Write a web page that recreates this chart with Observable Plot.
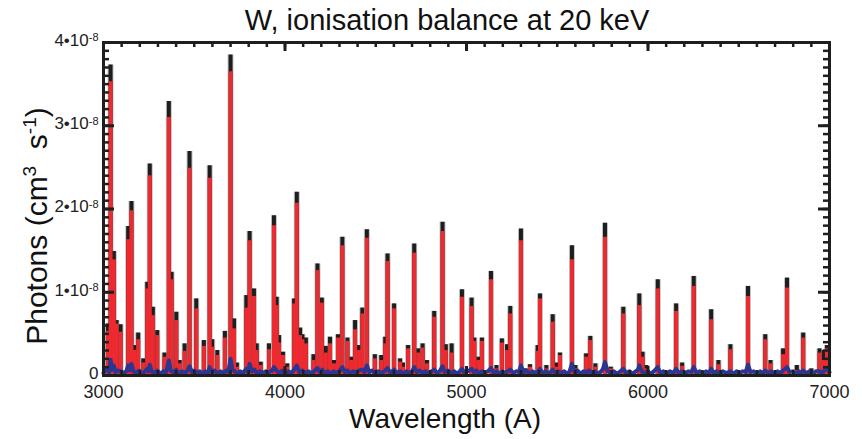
<!DOCTYPE html>
<html><head><meta charset="utf-8">
<script src="https://cdn.jsdelivr.net/npm/d3@7"></script>
<script src="https://cdn.jsdelivr.net/npm/@observablehq/plot@0.6"></script>
<style>
body{margin:0;background:#fff}
#chart{position:relative;width:862px;height:439px}
text{white-space:pre}
</style>
</head><body><div id="chart"></div>
<script>
// Wavelength of each emission line (Angstrom)
const peakWl = [3024,3039,3057,3072,3094,3136,3154,3173,3191,3219,3241,3255,3272,3296,3336,3360,3375,3401,3420,3447,
  3474,3511,3553,3585,3599,3627,3669,3700,3719,3735,3787,3805,3829,3844,3866,3912,3939,3954,3967,3989,
  4012,4050,4065,4083,4096,4115,4157,4179,4203,4225,4248,4270,4292,4316,4344,4365,4386,4408,4426,4451,
  4495,4530,4552,4565,4601,4634,4650,4678,4712,4734,4758,4782,4822,4868,4886,4918,4975,5028,5043,5065,
  5085,5135,5165,5195,5223,5241,5300,5325,5350,5392,5405,5440,5475,5495,5515,5581,5600,5659,5682,5710,
  5763,5795,5864,5952,5970,5990,6054,6155,6188,6252,6348,6388,6454,6551,6646,6675,6744,6766,6820,6855,
  6900,6945,6969,6986];
// Photons, units of 1e-8 cm^3 s^-1 (black series)
const blackPeak = [0.62,3.73,1.49,0.66,0.61,1.79,2.09,0.36,0.51,0.20,1.12,2.54,0.82,0.54,0.27,3.29,1.24,0.76,0.18,0.38,
  2.69,0.92,0.42,2.52,0.43,0.30,0.53,3.85,0.68,0.15,0.96,1.73,1.04,0.38,0.16,0.38,1.92,0.94,0.48,0.28,
  0.14,0.92,2.20,0.57,0.49,0.45,0.25,1.34,0.93,0.35,0.46,0.18,0.49,1.66,0.45,0.22,0.66,0.36,0.81,1.75,
  0.25,0.24,0.46,1.46,0.86,0.20,0.15,0.36,1.58,0.32,0.38,0.18,0.77,1.84,0.37,0.38,1.03,0.93,0.45,0.22,
  0.45,1.25,0.12,0.44,0.37,0.83,1.76,0.08,0.13,0.36,0.98,0.12,0.73,0.15,0.27,1.56,0.12,0.26,0.47,0.14,
  1.83,0.10,0.82,0.98,0.28,0.12,1.15,0.86,0.15,1.19,0.79,0.18,0.37,1.07,0.49,0.18,0.32,1.17,0.12,0.51,
  0.08,0.32,0.30,0.36];
// Photons, units of 1e-8 (red series)
const redPeak = [0.53,3.53,1.39,0.62,0.52,1.63,1.98,0.30,0.43,0.15,1.04,2.40,0.72,0.48,0.22,3.10,1.15,0.66,0.14,0.29,
  2.49,0.80,0.35,2.37,0.34,0.24,0.45,3.65,0.56,0.10,0.81,1.62,0.95,0.30,0.12,0.31,1.80,0.84,0.39,0.24,
  0.10,0.86,2.07,0.48,0.43,0.38,0.18,1.26,0.87,0.27,0.38,0.14,0.45,1.56,0.41,0.18,0.55,0.30,0.74,1.65,
  0.20,0.18,0.38,1.37,0.80,0.16,0.10,0.32,1.47,0.27,0.33,0.14,0.70,1.73,0.30,0.27,0.94,0.83,0.41,0.18,
  0.41,1.15,0.08,0.39,0.30,0.74,1.62,0.05,0.10,0.29,0.92,0.08,0.64,0.10,0.24,1.39,0.08,0.22,0.42,0.10,
  1.66,0.08,0.74,0.84,0.22,0.08,1.04,0.77,0.11,1.07,0.67,0.13,0.31,0.95,0.43,0.14,0.25,1.05,0.06,0.45,
  0.05,0.27,0.18,0.32];
// Blue series: [wavelength, photons (1e-8)]
const blueSeries = [[3000,0.03],[3012,0.06],[3024,0.08],[3032,0.04],[3039,0.19],[3047,0.07],[3057,0.12],[3066,0.04],[3080,0.06],[3094,0.05],
  [3110,0.03],[3125,0.05],[3136,0.12],[3145,0.06],[3154,0.14],[3165,0.05],[3180,0.03],[3196,0.06],[3212,0.02],[3228,0.05],
  [3241,0.08],[3248,0.05],[3255,0.13],[3265,0.05],[3280,0.03],[3296,0.06],[3312,0.02],[3330,0.05],[3345,0.04],[3360,0.18],
  [3370,0.06],[3385,0.04],[3401,0.07],[3415,0.02],[3432,0.05],[3447,0.03],[3460,0.05],[3474,0.11],[3488,0.04],[3500,0.06],
  [3515,0.03],[3530,0.05],[3545,0.02],[3560,0.05],[3575,0.03],[3585,0.10],[3597,0.04],[3612,0.06],[3628,0.02],[3645,0.05],
  [3660,0.03],[3675,0.06],[3688,0.04],[3700,0.20],[3710,0.07],[3722,0.05],[3738,0.02],[3752,0.05],[3768,0.03],[3787,0.08],
  [3796,0.04],[3805,0.14],[3818,0.05],[3832,0.07],[3848,0.02],[3862,0.05],[3878,0.03],[3895,0.05],[3912,0.04],[3925,0.05],
  [3939,0.10],[3952,0.06],[3968,0.03],[3985,0.06],[4000,0.02],[4018,0.05],[4035,0.03],[4050,0.07],[4065,0.12],[4078,0.04],
  [4096,0.06],[4112,0.03],[4130,0.05],[4145,0.02],[4160,0.05],[4179,0.09],[4192,0.04],[4205,0.07],[4220,0.03],[4236,0.05],
  [4252,0.02],[4268,0.05],[4282,0.03],[4298,0.05],[4316,0.10],[4330,0.04],[4345,0.06],[4360,0.02],[4375,0.05],[4390,0.04],
  [4408,0.06],[4426,0.07],[4438,0.04],[4451,0.12],[4465,0.04],[4480,0.06],[4495,0.02],[4512,0.05],[4530,0.03],[4548,0.05],
  [4565,0.09],[4580,0.03],[4601,0.07],[4618,0.03],[4635,0.05],[4652,0.02],[4668,0.05],[4685,0.03],[4700,0.05],[4712,0.10],
  [4726,0.04],[4742,0.06],[4758,0.03],[4775,0.05],[4792,0.02],[4808,0.05],[4822,0.07],[4838,0.03],[4852,0.05],[4868,0.11],
  [4880,0.04],[4898,0.06],[4915,0.03],[4932,0.05],[4948,0.02],[4962,0.05],[4975,0.08],[4990,0.03],[5008,0.05],[5028,0.08],
  [5040,0.04],[5055,0.06],[5070,0.02],[5085,0.05],[5100,0.03],[5118,0.05],[5135,0.09],[5150,0.03],[5168,0.05],[5182,0.02],
  [5198,0.05],[5212,0.03],[5228,0.05],[5241,0.07],[5258,0.03],[5275,0.05],[5288,0.04],[5300,0.12],[5314,0.04],[5330,0.06],
  [5348,0.02],[5365,0.05],[5380,0.03],[5395,0.05],[5405,0.08],[5420,0.03],[5438,0.05],[5455,0.02],[5475,0.07],[5490,0.03],
  [5505,0.05],[5520,0.03],[5538,0.05],[5555,0.02],[5568,0.05],[5581,0.14],[5595,0.04],[5612,0.06],[5628,0.02],[5645,0.05],
  [5660,0.04],[5675,0.06],[5690,0.03],[5708,0.05],[5725,0.02],[5742,0.05],[5752,0.08],[5763,0.16],[5778,0.05],[5795,0.03],
  [5812,0.05],[5830,0.02],[5848,0.05],[5864,0.08],[5880,0.03],[5898,0.05],[5915,0.02],[5932,0.05],[5945,0.07],[5952,0.12],
  [5965,0.05],[5980,0.03],[5998,0.05],[6015,0.02],[6032,0.05],[6054,0.10],[6068,0.03],[6085,0.05],[6102,0.02],[6120,0.05],
  [6138,0.03],[6155,0.08],[6170,0.03],[6188,0.05],[6205,0.02],[6222,0.05],[6238,0.04],[6252,0.10],[6268,0.03],[6285,0.05],
  [6302,0.02],[6320,0.05],[6335,0.03],[6348,0.08],[6362,0.03],[6378,0.05],[6395,0.02],[6412,0.05],[6430,0.03],[6454,0.05],
  [6470,0.02],[6488,0.05],[6505,0.03],[6522,0.05],[6538,0.04],[6551,0.13],[6565,0.04],[6582,0.05],[6600,0.02],[6618,0.05],
  [6632,0.03],[6646,0.06],[6662,0.03],[6680,0.05],[6698,0.02],[6715,0.05],[6730,0.03],[6744,0.06],[6766,0.10],[6780,0.04],
  [6798,0.05],[6815,0.02],[6832,0.05],[6845,0.03],[6855,0.06],[6872,0.03],[6890,0.05],[6908,0.02],[6925,0.05],[6945,0.05],
  [6960,0.03],[6975,0.07],[6986,0.08],[7000,0.04]];

const xTicks = [3000, 4000, 5000, 6000, 7000];
const xMinor = d3.range(3000, 7001, 100);
const yTicks = [0, 1, 2, 3, 4];
const yMinor = d3.range(0, 40.5, 1).map(d => d / 10);

const titleText = "W, ionisation balance at 20 keV";
const xLabel = "Wavelength (A)";

const W = 862, H = 439, mL = 103, mR = 33, mT = 42, mB = 64;
const innerW = W - mL - mR, innerH = H - mT - mB;

const peaks = peakWl.map((w, i) => ({w, b: blackPeak[i], r: redPeak[i]}));
const blue = blueSeries.map(([w, v]) => ({w, v}));

const ink = "#1e1e1e";
const chart = Plot.plot({
  width: W, height: H,
  marginLeft: mL, marginRight: mR, marginTop: mT, marginBottom: mB,
  style: {fontFamily: "'Liberation Sans', Arial, Helvetica, sans-serif", color: "#222", background: "#fff"},
  x: {domain: [3000, 7000], label: null},
  y: {domain: [0, 4], label: null},
  marks: [
    Plot.ruleX(peaks, {x: "w", y1: 0, y2: "b", stroke: "#c4c4c4", strokeWidth: 6}),
    Plot.ruleX(peaks, {x: "w", y1: 0, y2: "b", stroke: ink, strokeWidth: 4}),
    Plot.ruleX(peaks, {x: "w", y1: 0, y2: "r", stroke: "#ec2a30", strokeWidth: 4}),
    Plot.line(blue, {x: "w", y: "v", stroke: "#2c3590", strokeWidth: 4, strokeLinejoin: "round"}),
    Plot.frame({stroke: ink, strokeWidth: 3}),
    // inward ticks, bottom & top
    Plot.tickX(xMinor, {x: d => d, insetTop: innerH - 5, stroke: ink, strokeWidth: 2.5}),
    Plot.tickX(xMinor, {x: d => d, insetBottom: innerH - 5, stroke: ink, strokeWidth: 2.5}),
    Plot.tickX(xTicks, {x: d => d, insetTop: innerH - 9, stroke: ink, strokeWidth: 3}),
    Plot.tickX(xTicks, {x: d => d, insetBottom: innerH - 9, stroke: ink, strokeWidth: 3}),
    // inward ticks, left & right
    Plot.tickY(yMinor, {y: d => d, insetRight: innerW - 6, stroke: ink, strokeWidth: 2.5}),
    Plot.tickY(yMinor, {y: d => d, insetLeft: innerW - 6, stroke: ink, strokeWidth: 2.5}),
    Plot.tickY(yTicks, {y: d => d, insetRight: innerW - 11, stroke: ink, strokeWidth: 3}),
    Plot.tickY(yTicks, {y: d => d, insetLeft: innerW - 11, stroke: ink, strokeWidth: 3}),
    Plot.axisX(xTicks, {tickSize: 0, tickPadding: 10, fontSize: 18, tickFormat: d => String(d)}),
    Plot.axisY(yTicks, {tickSize: 0, tickPadding: 5, fontSize: 17, dy: -2, tickFormat: d => d === 0 ? "0" : `${d}\u202210`})
  ]
});
document.getElementById("chart").appendChild(chart);

const svg = d3.select(chart);
// superscript exponents on y tick labels
svg.selectAll('g[aria-label="y-axis tick label"] text').each(function() {
  const t = d3.select(this);
  if (t.text() !== "0") t.append("tspan").attr("dy", "-0.42em").attr("font-size", 11).text("-8");
});

svg.append("text").attr("x", 447).attr("y", 30).attr("text-anchor", "middle")
  .attr("font-size", 29).attr("fill", "#111").text(titleText);
svg.append("text").attr("x", 445).attr("y", 428).attr("text-anchor", "middle")
  .attr("font-size", 28).attr("fill", "#111").text(xLabel);
const yl = svg.append("text").attr("transform", "translate(47,226) rotate(-90)")
  .attr("text-anchor", "middle").attr("font-size", 30).attr("fill", "#111");
yl.append("tspan").text("Photons (cm");
yl.append("tspan").attr("dy", -11).attr("font-size", 19).text("3");
yl.append("tspan").attr("dy", 11).text("  s");
yl.append("tspan").attr("dy", -11).attr("font-size", 19).text("-1");
yl.append("tspan").attr("dy", 11).text(")");
</script>
</body></html>
